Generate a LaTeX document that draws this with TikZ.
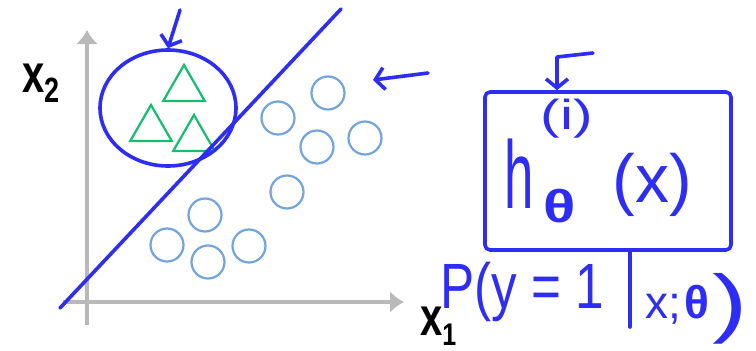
\documentclass[tikz,border=0pt]{standalone}
\usepackage{fontspec}
\usepackage{tikz}
\usetikzlibrary{positioning, arrows.meta, shapes.geometric}

\newfontfamily\handfont{Liberation Sans}

\definecolor{penblue}{RGB}{45,45,245}
\definecolor{dotblue}{RGB}{115,165,220}
\definecolor{trigreen}{RGB}{20,190,110}
\definecolor{axisgray}{RGB}{185,185,185}

\begin{document}
\begin{tikzpicture}[
    x=1pt, y=-1pt,
    % Pen strokes (hand drawn blue)
    pen_line/.style={line width=3.6pt, penblue, line cap=round, line join=round},
    pen_arrow/.style={pen_line, -{Straight Barb[length=9pt, width=22pt]}},
    pen_text/.style={text=penblue, font=\handfont, inner sep=0pt},
    % --- STYLES FOR DATA POINTS ---
    data_circle/.style={circle, draw=dotblue, line width=2.2pt, minimum size=33pt, inner sep=0pt},
    data_tri/.style={regular polygon, regular polygon sides=3, draw=trigreen, line width=2.2pt, minimum size=48pt, inner sep=0pt},
    % Axes and labels
    axis_line/.style={line width=4pt, axisgray, -{Latex[length=14pt, width=22pt]}},
    axis_label/.style={font=\handfont\bfseries, text=black, inner sep=0pt, anchor=base west}
]

\path[use as bounding box, fill=white] (0,0) rectangle (756,351);

%% --- AXES ---
\coordinate (ybot) at (87,325);
\coordinate (ytop) at (87,30);
\coordinate (xleft) at (63,302);
\coordinate (xright) at (404,302);
\draw[axis_line] (ybot) -- (ytop);
\draw[axis_line] (xleft) -- (xright);

\node[axis_label] (xtwo) at (22,92) {\scalebox{1}[1.35]{\fontsize{40}{40}\selectfont x}\raisebox{-10pt}{\scalebox{1}[1.3]{\fontsize{27}{27}\selectfont 2}}};
\node[axis_label] (xone) at (420,335) {\scalebox{1}[1.35]{\fontsize{40}{40}\selectfont x}\raisebox{-10pt}{\scalebox{1}[1.25]{\fontsize{25}{25}\selectfont 1}}};

%% --- DATA POINTS ---
% Negative class (circles)
\foreach \cx/\cy [count=\i] in {328/93, 278/118, 317/147, 365/138, 287/192, 205/215, 167/245, 208/262, 249/246}
    \node[data_circle] (c\i) at (\cx,\cy) {};

% Positive class (triangles)
\foreach \tx/\ty [count=\i] in {184/89, 151/129, 194/139}
    \node[data_tri] (t\i) at (\tx,\ty) {};

%% --- DECISION BOUNDARY ---
\coordinate (bnd_lo) at (60,308);
\coordinate (bnd_hi) at (341,9);
\draw[pen_line] (bnd_lo) -- (bnd_hi);

% Ring round the positive class
\node[ellipse, pen_line, draw, fill=none, minimum width=136pt, minimum height=116pt] (cluster) at (168,108) {};
\coordinate (tag_one) at (180,10);
\draw[pen_arrow] (tag_one) -- (cluster.north);

% Arrow at the boundary
\coordinate (tag_two) at (428,73);
\coordinate (tag_two_end) at (373,80);
\draw[pen_arrow] (tag_two) -- (tag_two_end);

%% --- HYPOTHESIS BOX ---
\node[draw=penblue, line width=3.6pt, rounded corners=5pt, minimum width=246pt, minimum height=158pt] (hbox) at (608,171) {};
\coordinate (tag_three) at (593,53);
\coordinate (tag_bend) at (557,57);
\draw[pen_arrow] (tag_three) -- (tag_bend) -- (tag_bend |- hbox.north);

\node[pen_text, anchor=base] (hsup) at (567,129) {\scalebox{1.4}[1]{\fontsize{42}{42}\selectfont (i)}};
\node[pen_text, anchor=base west] (hsym) at (504,208) {\scalebox{0.55}[1]{\fontsize{96}{96}\selectfont h}};
\node[pen_text, anchor=base] (hsub) at (560,222) {\scalebox{1.3}[1]{\fontsize{46}{46}\selectfont\bfseries θ}};
\node[pen_text, anchor=base] (harg) at (652,202) {\fontsize{68}{68}\selectfont (x)};

%% --- PROBABILITY ---
\node[pen_text, anchor=base west] (phead) at (440,308) {\scalebox{0.8}[1]{\fontsize{64}{64}\selectfont P(y = 1}};
\coordinate (bar_end) at (630,327);
\draw[pen_line] (hbox.south -| bar_end) -- (bar_end);
\node[pen_text, anchor=base west] (pcond) at (645,318) {\fontsize{46}{46}\selectfont x;\hspace{4pt}{\bfseries θ}};
\node[pen_text, anchor=base] (pclose) at (730,328) {\scalebox{1.4}[1]{\fontsize{76}{76}\selectfont )}};

\end{tikzpicture}
\end{document}
